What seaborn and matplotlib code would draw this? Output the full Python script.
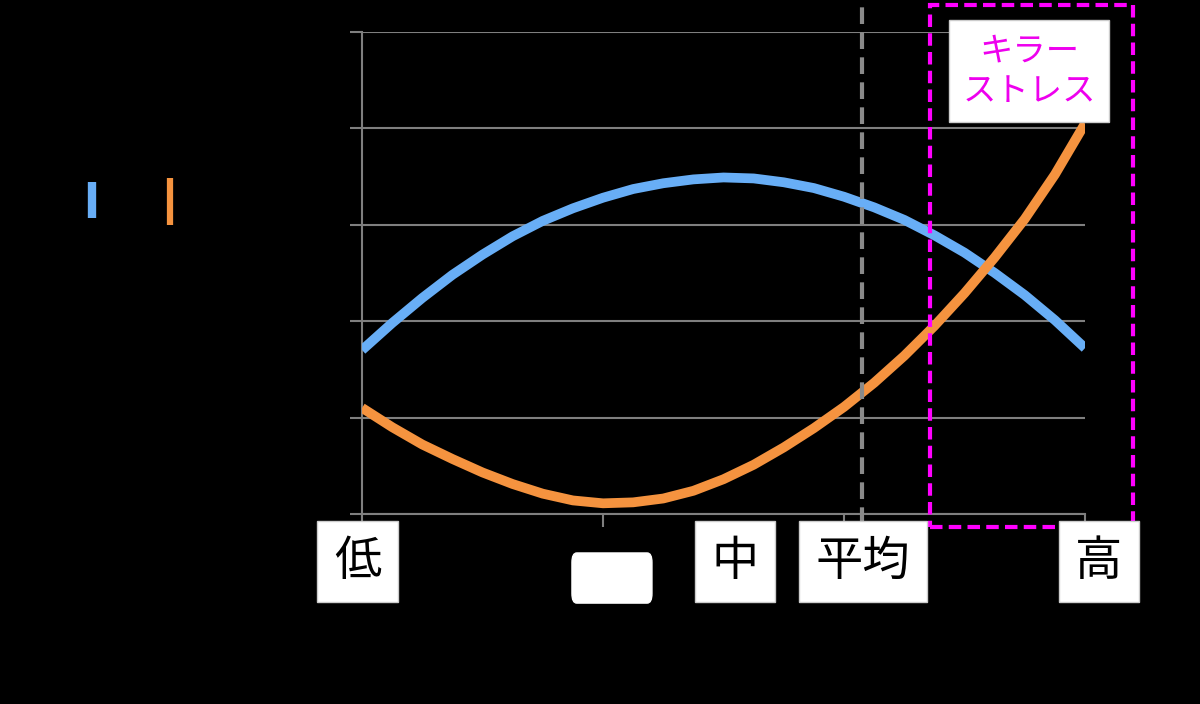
import matplotlib
matplotlib.use("Agg")
import matplotlib.pyplot as plt
import seaborn as sns
import pandas as pd
from matplotlib.patches import Rectangle, FancyBboxPatch
from matplotlib.lines import Line2D
import matplotlib.transforms as mtransforms

# ---- data ----
x_pos = [0, 0.125, 0.25, 0.375, 0.5, 0.625, 0.75, 0.875, 1.0, 1.125, 1.25, 1.375, 1.5,
         1.625, 1.75, 1.875, 2.0, 2.125, 2.25, 2.375, 2.5, 2.625, 2.75, 2.875, 3.0]
blue_vals = [1.70, 1.98, 2.24, 2.48, 2.69, 2.88, 3.04, 3.17, 3.28, 3.37, 3.43, 3.47, 3.49,
             3.48, 3.44, 3.38, 3.29, 3.18, 3.05, 2.89, 2.71, 2.50, 2.27, 2.01, 1.72]
orange_vals = [1.10, 0.90, 0.72, 0.57, 0.43, 0.31, 0.21, 0.14, 0.11, 0.12, 0.16, 0.24, 0.36,
               0.51, 0.69, 0.89, 1.11, 1.36, 1.64, 1.95, 2.29, 2.66, 3.06, 3.52, 4.05]
avg_x = 2.075
label_names = ["低", "", "中", "平均", "高"]
label_x = [-0.019, 1.037, 1.548, 2.079, 3.058]
killer_text = "キラー\nストレス"
killer_left, killer_right = 2.357, 3.20

sns.set_theme(style="dark")
plt.rcParams['font.family'] = ['Noto Sans CJK JP', 'DejaVu Sans']

fig = plt.figure(figsize=(12, 7.04), dpi=100, facecolor="black")
ax = fig.add_axes([0.3017, 0.27, 0.6025, 0.6847])
ax.set_facecolor("black")

df = pd.DataFrame({"x": x_pos + x_pos,
                   "y": blue_vals + orange_vals,
                   "s": ["a"] * len(x_pos) + ["b"] * len(x_pos)})
sns.lineplot(data=df, x="x", y="y", hue="s",
             palette={"a": "#68AEF6", "b": "#F5933F"},
             linewidth=7, legend=False, ax=ax,
             solid_capstyle="butt", solid_joinstyle="round", zorder=3)

ax.set_xlim(0, 3)
ax.set_ylim(0, 5)
ax.set_xticks([0, 1, 2, 3])
ax.set_yticks([0, 1, 2, 3, 4, 5])
ax.set_xticklabels([])
ax.set_yticklabels([])
ax.set_xlabel("")
ax.set_ylabel("")
ax.grid(axis="y", color="#7f7f7f", linewidth=1.5)
ax.grid(axis="x", visible=False)
ax.tick_params(axis="both", which="both", length=9, width=1.5, color="#7f7f7f",
               direction="out", bottom=True, left=True)
for side in ["top", "right"]:
    ax.spines[side].set_visible(False)
for side in ["left", "bottom"]:
    ax.spines[side].set_visible(True)
    ax.spines[side].set_color("#7f7f7f")
    ax.spines[side].set_linewidth(1.5)

trans = mtransforms.blended_transform_factory(ax.transData, ax.transAxes)

# average dashed line
ax.add_line(Line2D([avg_x, avg_x], [-0.02, 1.07], transform=trans, color="#8a8a8a",
                   linewidth=3, dashes=(4, 2), clip_on=False, zorder=4))

# magenta dashed rectangle
ax.add_patch(Rectangle((killer_left, -0.027), killer_right - killer_left, 1.083,
                       transform=trans, fill=False, edgecolor="#FF00FF",
                       linewidth=3, linestyle=(0, (3, 1.5)), clip_on=False, zorder=5))

# label boxes under axis
for name, lx in zip(label_names, label_x):
    if name:
        ax.text(lx, -0.0985, name, transform=trans, ha="center", va="center",
                fontsize=34, color="black", zorder=6,
                bbox=dict(boxstyle="square,pad=0.35", fc="white", ec="#cccccc", lw=1))
    else:
        ax.add_patch(FancyBboxPatch((lx - 0.166, -0.185), 0.332, 0.104, transform=trans,
                                    boxstyle="round,pad=0,rounding_size=0.02",
                                    fc="white", ec="white", clip_on=False, zorder=6,
                                    mutation_aspect=1))

ax.text((killer_left + killer_right) / 2 - 0.01, 4.596, killer_text, ha="center", va="center",
        fontsize=24, color="#EE00EE", linespacing=1.2, zorder=7,
        bbox=dict(boxstyle="square,pad=0.4", fc="white", ec="#cccccc", lw=1))

# legend handles (text is black on black)
fig.add_artist(Line2D([92 / 1200, 92 / 1200], [1 - 182 / 704, 1 - 218 / 704],
                      color="#68AEF6", linewidth=6, solid_capstyle="butt"))
fig.add_artist(Line2D([170 / 1200, 170 / 1200], [1 - 178 / 704, 1 - 225 / 704],
                      color="#F5933F", linewidth=4.5, solid_capstyle="butt"))

fig.savefig("out.png", dpi=100, facecolor="black")
